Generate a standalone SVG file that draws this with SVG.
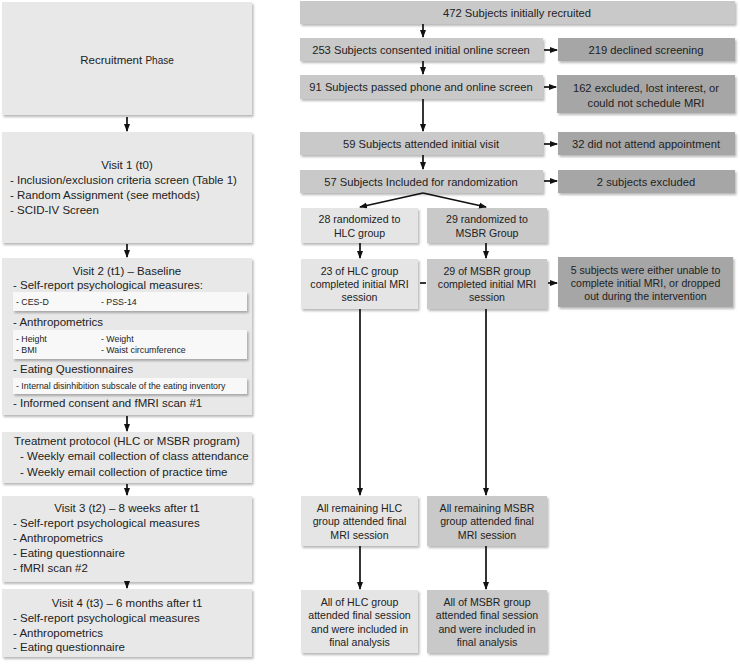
<svg xmlns="http://www.w3.org/2000/svg" width="740" height="665" viewBox="0 0 740 665">
<defs>
<filter id="sh" x="-5%" y="-10%" width="115%" height="130%">
<feDropShadow dx="1.5" dy="2" stdDeviation="1.3" flood-color="#000" flood-opacity="0.28"/>
</filter>
<marker id="ah" markerUnits="userSpaceOnUse" markerWidth="8" markerHeight="8" viewBox="0 0 8 8" refX="7" refY="4" orient="auto">
<path d="M0,1 L8,4 L0,7 Z" fill="#111"/>
</marker>
</defs>
<style>
text{font-family:"Liberation Sans",Arial,sans-serif;font-size:11.5px;fill:#222}
.c{text-anchor:middle}
.s{font-size:8.8px}
.r{font-size:11.2px}
.g{font-size:10.6px}
.lt{fill:#e8e8e8;filter:url(#sh)}
.in{fill:#f8f8f8;filter:url(#sh)}
.md{fill:#c9c9c9;filter:url(#sh)}
.dk{fill:#a6a6a6;filter:url(#sh)}
.hl{fill:#e5e5e5;filter:url(#sh)}
.cn{stroke:#111;stroke-width:1.7;fill:none}
.ar{marker-end:url(#ah)}
</style>
<rect width="740" height="665" fill="#fff"/>

<g id="recruitment">
<rect class="lt" x="2" y="2" width="250" height="113"/>
<text class="c" x="127" y="64">Recruitment <tspan style="font-size:10px">Phase</tspan></text>
</g>
<g id="visit1">
<rect class="lt" x="2" y="132" width="250" height="111"/>
<text class="c" x="127" y="169">Visit 1 (t0)</text>
<text x="10" y="184">- Inclusion/exclusion criteria screen (Table 1)</text>
<text x="10" y="199">- Random Assignment (see methods)</text>
<text x="10" y="214">- SCID-IV Screen</text>
</g>
<g id="visit2">
<rect class="lt" x="2" y="258" width="250" height="157"/>
<text class="c" x="127" y="275">Visit 2 (t1) – Baseline</text>
<text x="13" y="289">- Self-report psychological measures:</text>
<rect class="in" x="13" y="292" width="234" height="19"/>
<text class="s" x="16" y="305">- CES-D</text>
<text class="s" x="101" y="305">- PSS-14</text>
<text x="13" y="326">- Anthropometrics</text>
<rect class="in" x="13" y="330" width="234" height="29"/>
<text class="s" x="16" y="342">- Height</text>
<text class="s" x="101" y="342">- Weight</text>
<text class="s" x="16" y="353">- BMI</text>
<text class="s" x="101" y="353">- Waist circumference</text>
<text x="13" y="373">- Eating Questionnaires</text>
<rect class="in" x="13" y="378" width="234" height="16"/>
<text class="s" x="16" y="389">- Internal disinhibition subscale of the eating inventory</text>
<text x="13" y="407">- Informed consent and fMRI scan #1</text>
</g>
<g id="treatment">
<rect class="lt" x="2" y="432" width="250" height="51"/>
<text class="c" x="127" y="445">Treatment protocol (HLC or MSBR program)</text>
<text x="20" y="460">- Weekly email collection of class attendance</text>
<text x="20" y="476">- Weekly email collection of practice time</text>
</g>
<g id="visit3">
<rect class="lt" x="2" y="496" width="250" height="86"/>
<text class="c" x="127" y="512">Visit 3 (t2) – 8 weeks after t1</text>
<text x="13" y="527">- Self-report psychological measures</text>
<text x="13" y="542">- Anthropometrics</text>
<text x="13" y="557">- Eating questionnaire</text>
<text x="13" y="572">- fMRI scan #2</text>
</g>
<g id="visit4">
<rect class="lt" x="2" y="589" width="250" height="68"/>
<text class="c" x="127" y="607">Visit 4 (t3) – 6 months after t1</text>
<text x="13" y="622">- Self-report psychological measures</text>
<text x="13" y="637">- Anthropometrics</text>
<text x="13" y="651">- Eating questionnaire</text>
</g>

<g id="n472">
<rect class="md" x="300" y="1" width="435" height="23"/>
<text class="c r" x="517" y="17">472 Subjects initially recruited</text>
</g>
<g id="n253">
<rect class="md" x="300" y="38" width="243" height="23"/>
<text class="c r" x="421" y="54">253 Subjects consented initial online screen</text>
</g>
<g id="n219">
<rect class="dk" x="558" y="38" width="177" height="23"/>
<text class="c r" x="646" y="54">219 declined screening</text>
</g>
<g id="n91">
<rect class="md" x="300" y="75" width="243" height="24"/>
<text class="c r" x="421" y="91">91 Subjects passed phone and online screen</text>
</g>
<g id="n162">
<rect class="dk" x="557" y="75" width="178" height="38"/>
<text class="c r" x="646" y="92">162 excluded, lost interest, or</text>
<text class="c r" x="646" y="107">could not schedule MRI</text>
</g>
<g id="n59">
<rect class="md" x="300" y="132" width="243" height="23"/>
<text class="c r" x="421" y="148">59 Subjects attended initial visit</text>
</g>
<g id="n32">
<rect class="dk" x="558" y="132" width="177" height="23"/>
<text class="c r" x="646" y="148">32 did not attend appointment</text>
</g>
<g id="n57">
<rect class="md" x="300" y="170" width="243" height="23"/>
<text class="c r" x="421" y="186">57 Subjects Included for randomization</text>
</g>
<g id="n2">
<rect class="dk" x="558" y="170" width="177" height="23"/>
<text class="c r" x="646" y="186">2 subjects excluded</text>
</g>
<g id="hlc1">
<rect class="hl" x="301" y="208" width="117" height="35"/>
<text class="c g" x="359.5" y="223">28 randomized to</text>
<text class="c g" x="359.5" y="237">HLC group</text>
</g>
<g id="msbr1">
<rect class="md" x="427" y="208" width="120" height="35"/>
<text class="c g" x="487" y="223">29 randomized to</text>
<text class="c g" x="487" y="237">MSBR Group</text>
</g>
<g id="hlc2">
<rect class="hl" x="301" y="259" width="117" height="50"/>
<text class="c g" x="359.5" y="275">23 of HLC group</text>
<text class="c g" x="359.5" y="288">completed initial MRI</text>
<text class="c g" x="359.5" y="301">session</text>
</g>
<g id="msbr2">
<rect class="md" x="427" y="259" width="120" height="50"/>
<text class="c g" x="487" y="275">29 of MSBR group</text>
<text class="c g" x="487" y="288">completed initial MRI</text>
<text class="c g" x="487" y="301">session</text>
</g>
<g id="n5">
<rect class="dk" x="558" y="257" width="175" height="50"/>
<text class="c g" x="645.5" y="274">5 subjects were either unable to</text>
<text class="c g" x="645.5" y="287">complete initial MRI, or dropped</text>
<text class="c g" x="645.5" y="300">out during the intervention</text>
</g>
<g id="hlc3">
<rect class="hl" x="301" y="496" width="117" height="50"/>
<text class="c g" x="359.5" y="512">All remaining HLC</text>
<text class="c g" x="359.5" y="525">group attended final</text>
<text class="c g" x="359.5" y="539">MRI session</text>
</g>
<g id="msbr3">
<rect class="md" x="427" y="496" width="120" height="50"/>
<text class="c g" x="487" y="512">All remaining MSBR</text>
<text class="c g" x="487" y="525">group attended final</text>
<text class="c g" x="487" y="539">MRI session</text>
</g>
<g id="hlc4">
<rect class="hl" x="301" y="590" width="117" height="63"/>
<text class="c g" x="359.5" y="606">All of HLC group</text>
<text class="c g" x="359.5" y="619">attended final session</text>
<text class="c g" x="359.5" y="633">and were included in</text>
<text class="c g" x="359.5" y="646">final analysis</text>
</g>
<g id="msbr4">
<rect class="md" x="427" y="590" width="120" height="63"/>
<text class="c g" x="487" y="606">All of MSBR group</text>
<text class="c g" x="487" y="619">attended final session</text>
<text class="c g" x="487" y="633">and were included in</text>
<text class="c g" x="487" y="646">final analysis</text>
</g>

<g id="connectors">
<path class="cn ar" d="M127,117 V131"/>
<path class="cn ar" d="M127,244 V257"/>
<path class="cn ar" d="M127,416 V431"/>
<path class="cn ar" d="M127,484 V495"/>
<path class="cn ar" d="M127,583 V588"/>
<path class="cn ar" d="M423,24 V37"/>
<path class="cn ar" d="M423,61 V74"/>
<path class="cn ar" d="M423,99 V131"/>
<path class="cn ar" d="M423,155 V169"/>
<path class="cn ar" d="M544,50 H557"/>
<path class="cn ar" d="M544,87 H556"/>
<path class="cn ar" d="M544,144 H557"/>
<path class="cn ar" d="M544,181 H557"/>
<path class="cn ar" d="M423,193 L360,207"/>
<path class="cn ar" d="M423,193 L486,207"/>
<path class="cn ar" d="M360,243 V258"/>
<path class="cn ar" d="M486,243 V258"/>
<path class="cn" d="M420,283 H426"/>
<path class="cn ar" d="M548,283 H557"/>
<path class="cn ar" d="M360,309 V495"/>
<path class="cn ar" d="M486,309 V495"/>
<path class="cn ar" d="M360,546 V589"/>
<path class="cn ar" d="M486,546 V589"/>
</g>
</svg>
